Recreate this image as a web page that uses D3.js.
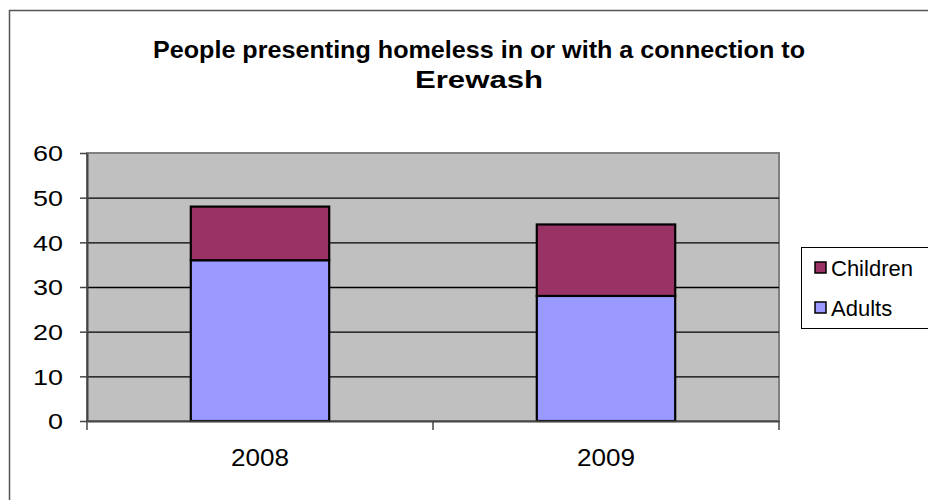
<!DOCTYPE html>
<html lang="en">
<head>
    <meta charset="UTF-8">
    <title>People presenting homeless</title>
    <script src="https://d3js.org/d3.v7.min.js"></script>
    <style>
        body { margin: 0; background: #fff; }
        text { font-family: "Liberation Sans", Arial, sans-serif; }
    </style>
</head>
<body>
<div id="chart"></div>
<script>
    const years = ["2008", "2009"];
    const adults = [36, 28];
    const children = [12, 16];
    const seriesNames = ["Adults", "Children"];
    const yTicks = [0, 10, 20, 30, 40, 50, 60];

    const colors = {Adults: "#9999ff", Children: "#993366"};

    const width = 928, height = 500;
    const plot = {left: 87, right: 779, top: 153, bottom: 421};

    const svg = d3.select("#chart").append("svg")
        .attr("width", width)
        .attr("height", height);

    // outer chart frame
    svg.append("rect")
        .attr("x", 9.5).attr("y", 10.5)
        .attr("width", 940).attr("height", 500)
        .attr("fill", "#fff")
        .attr("stroke", "#555")
        .attr("stroke-width", 1.5);

    // title, glyphs squeezed a bit like the original
    svg.append("text")
        .attr("x", 479).attr("y", 58)
        .attr("text-anchor", "middle")
        .style("font-size", "24px").style("font-weight", "bold")
        .attr("textLength", 652).attr("lengthAdjust", "spacingAndGlyphs")
        .text("People presenting homeless in or with a connection to");
    svg.append("text")
        .attr("x", 479).attr("y", 88)
        .attr("text-anchor", "middle")
        .style("font-size", "24px").style("font-weight", "bold")
        .attr("textLength", 128).attr("lengthAdjust", "spacingAndGlyphs")
        .text("Erewash");

    const x = d3.scaleBand().domain(years).range([plot.left, plot.right]).paddingInner(0.6).paddingOuter(0.3);
    const band = d3.scaleBand().domain(years).range([plot.left, plot.right]);
    const y = d3.scaleLinear().domain([0, 60]).range([plot.bottom, plot.top]);

    // plot area
    svg.append("rect")
        .attr("x", plot.left).attr("y", plot.top)
        .attr("width", plot.right - plot.left).attr("height", plot.bottom - plot.top)
        .attr("fill", "#c0c0c0")
        .attr("stroke", "#808080").attr("stroke-width", 2);

    // gridlines
    svg.append("g").selectAll("line")
        .data(yTicks.filter(d => d > 0 && d < 60))
        .join("line")
        .attr("x1", plot.left).attr("x2", plot.right)
        .attr("y1", d => y(d) + 0.5).attr("y2", d => y(d) + 0.5)
        .attr("stroke", "#000").attr("stroke-width", 1.3);

    // stacked bars
    const rows = years.map((yr, i) => ({year: yr, Adults: adults[i], Children: children[i]}));
    const stack = d3.stack().keys(seriesNames)(rows);

    svg.append("g").selectAll("g")
        .data(stack)
        .join("g")
        .attr("fill", d => colors[d.key])
        .selectAll("rect")
        .data(d => d)
        .join("rect")
        .attr("x", d => x(d.data.year))
        .attr("y", d => y(d[1]))
        .attr("width", x.bandwidth())
        .attr("height", d => y(d[0]) - y(d[1]))
        .attr("stroke", "#000").attr("stroke-width", 2.2);

    // y axis
    const yAxis = svg.append("g")
        .attr("transform", `translate(${plot.left},0)`)
        .call(d3.axisLeft(y).tickValues(yTicks).tickSize(7).tickSizeOuter(0).tickPadding(17));
    yAxis.select(".domain").attr("stroke", "#444").attr("stroke-width", 2);
    yAxis.selectAll(".tick line").attr("stroke", "#444").attr("stroke-width", 1.5);
    yAxis.selectAll("text")
        .style("font-size", "22px").attr("fill", "#000").attr("dy", "0.36em")
        .attr("textLength", d => String(d).length * 15).attr("lengthAdjust", "spacingAndGlyphs");

    // x axis
    const xAxis = svg.append("g")
        .attr("transform", `translate(0,${plot.bottom})`)
        .call(d3.axisBottom(band).tickSize(0).tickPadding(28));
    xAxis.select(".domain").attr("stroke", "#444").attr("stroke-width", 2);
    xAxis.selectAll("text")
        .style("font-size", "24px").attr("fill", "#000")
        .attr("textLength", 58).attr("lengthAdjust", "spacingAndGlyphs");
    xAxis.selectAll(".sep")
        .data([plot.left, (plot.left + plot.right) / 2, plot.right])
        .join("line")
        .attr("x1", d => d).attr("x2", d => d)
        .attr("y1", 0).attr("y2", 9)
        .attr("stroke", "#444").attr("stroke-width", 1.5);

    // legend
    const legend = svg.append("g").attr("transform", "translate(801,247)");
    legend.append("rect")
        .attr("x", 0.5).attr("y", 0.5)
        .attr("width", 130).attr("height", 81)
        .attr("fill", "#fff").attr("stroke", "#000").attr("stroke-width", 1);
    const items = legend.selectAll(".item")
        .data(["Children", "Adults"])
        .join("g")
        .attr("transform", (d, i) => `translate(0,${15 + i * 40})`);
    items.append("rect")
        .attr("x", 14).attr("y", 0)
        .attr("width", 11).attr("height", 11)
        .attr("fill", d => colors[d])
        .attr("stroke", "#000").attr("stroke-width", 1.5);
    items.append("text")
        .attr("x", 30).attr("y", 14)
        .style("font-size", "22px")
        .text(d => d);
</script>
</body>
</html>
